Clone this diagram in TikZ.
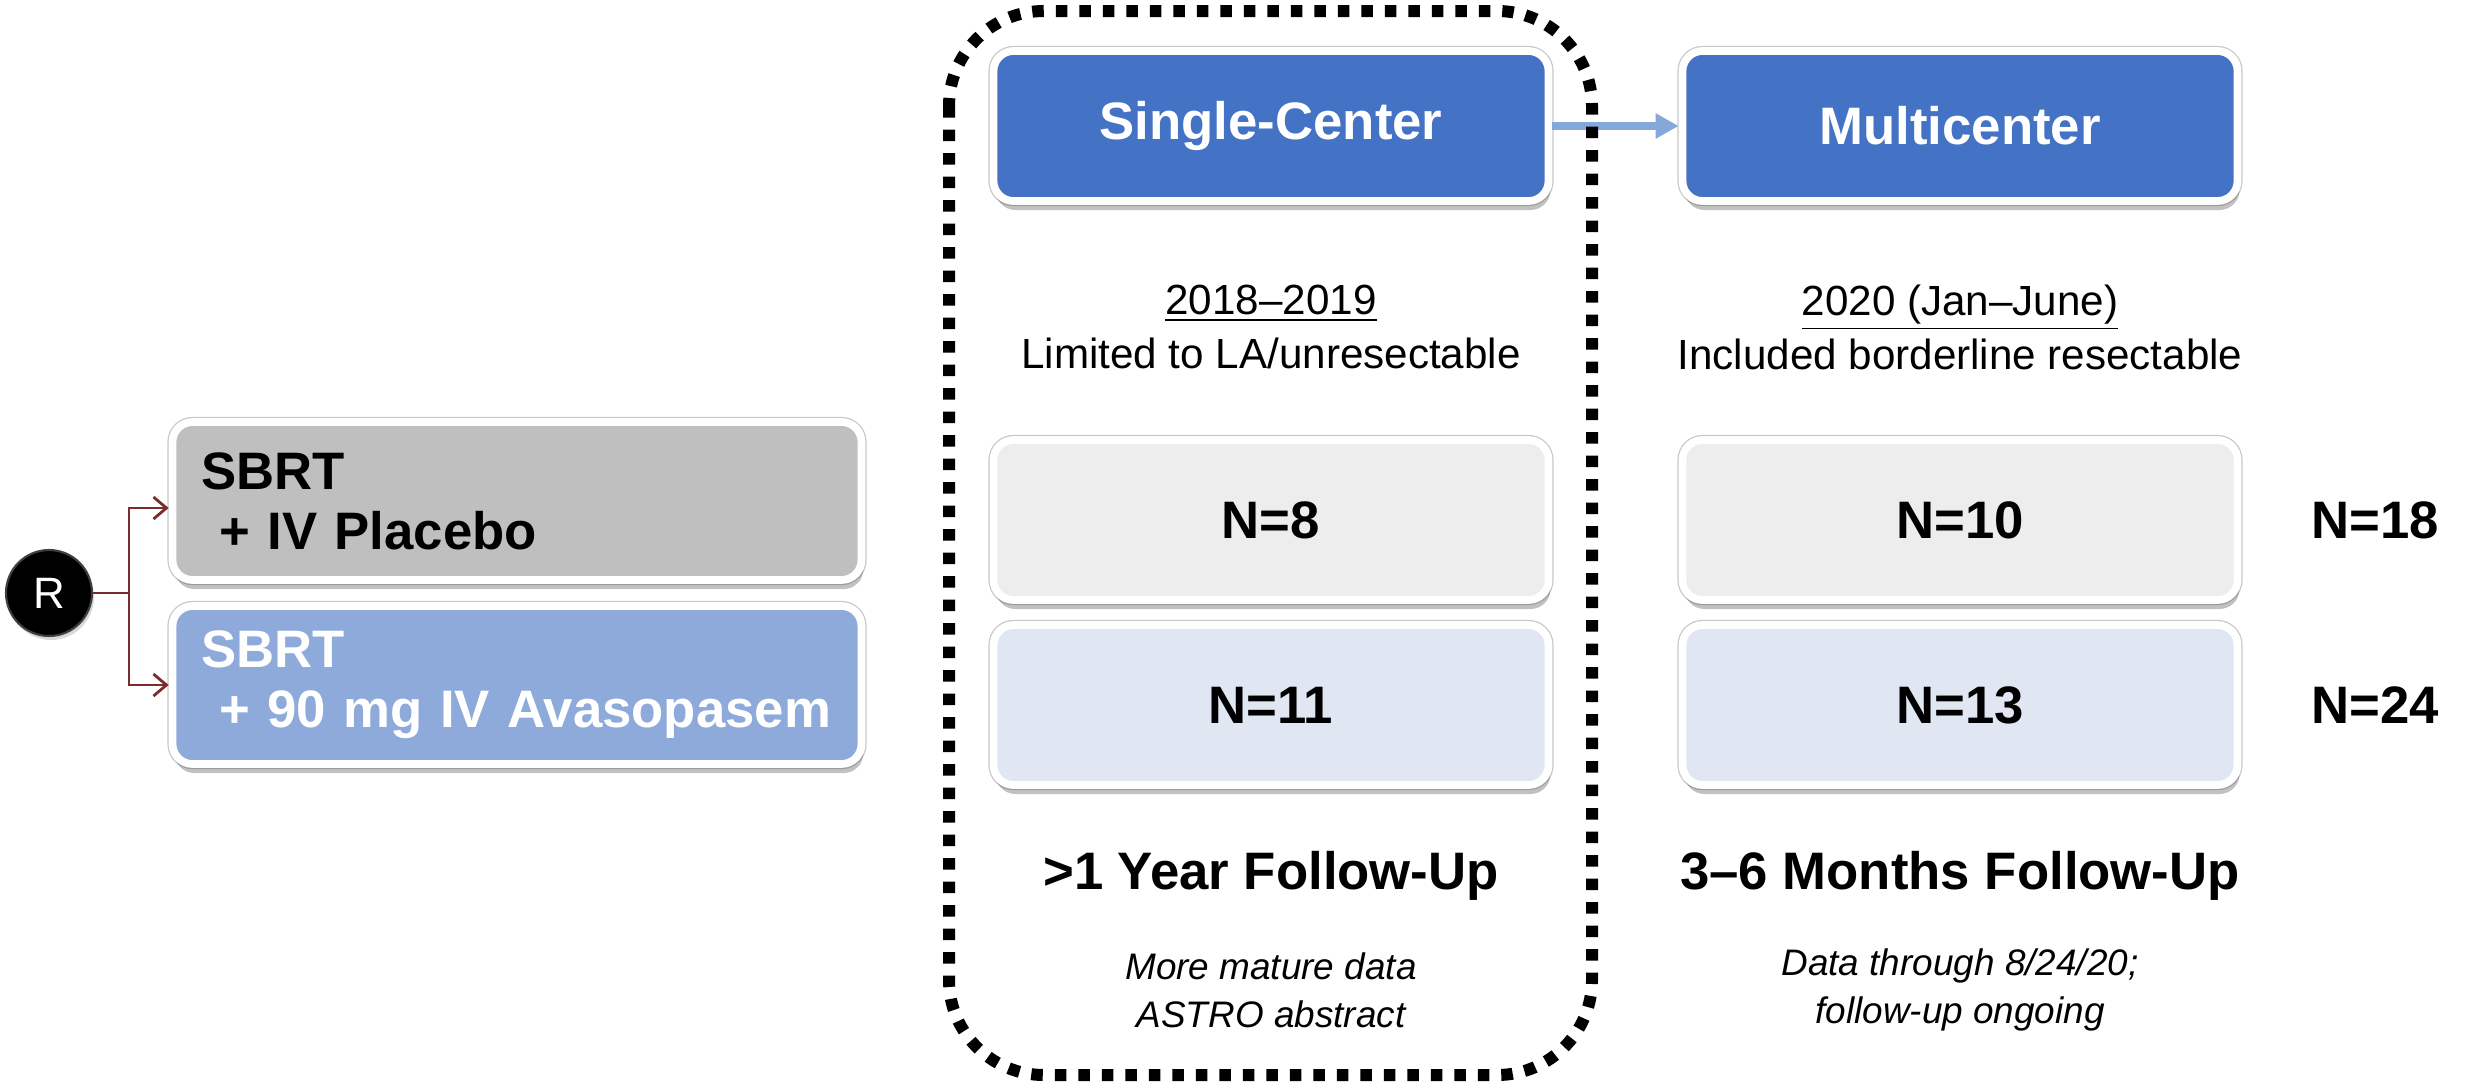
\documentclass[tikz,border=0pt]{standalone}
\usepackage{fontspec}
\setmainfont{Liberation Sans}
\usepackage{xcolor}
\usetikzlibrary{positioning, arrows.meta, shadows, calc}

\definecolor{siteblue}{HTML}{4472C4}
\definecolor{placebogray}{HTML}{BFBFBF}
\definecolor{drugblue}{HTML}{8EAADB}
\definecolor{countgray}{HTML}{EDEDED}
\definecolor{countblue}{HTML}{E1E7F2}
\definecolor{linkblue}{HTML}{84A9D8}
\definecolor{randred}{HTML}{7B2C2C}

\begin{document}
\begin{tikzpicture}
    [x=0.1mm, y=-0.1mm,
     box/.style={rectangle, rounded corners=2mm, draw=white, line width=2.2pt,
                 preaction={draw=black!22, line width=2.9pt},
                 drop shadow={shadow xshift=0.2mm, shadow yshift=-0.9mm, opacity=0.35, fill=black!70}},
     site/.style={box, fill=siteblue, text=white, minimum width=55.5mm, minimum height=15mm,
                  font=\fontsize{15}{17}\selectfont\bfseries},
     arm/.style={box, minimum width=68.9mm, minimum height=15.8mm, text width=63.1mm,
                 inner xsep=2.9mm, align=left, font=\fontsize{15}{17}\selectfont\bfseries},
     count/.style={box, minimum width=55.5mm, minimum height=16mm,
                   font=\fontsize{15}{17}\selectfont\bfseries},
     total/.style={font=\fontsize{15}{17}\selectfont\bfseries},
     period/.style={align=center, font=\fontsize{12}{15.4}\selectfont},
     followup/.style={font=\fontsize{15}{17}\selectfont\bfseries},
     note/.style={align=center, font=\fontsize{10.5}{13.7}\selectfont\itshape}]
    \useasboundingbox (0,0) rectangle (2466,1081);

    \node (single) at (1271,126) [site] {Single-Center};
    \node (multi) at (1960,126) [site] {Multicenter};

    \node (period1) at (1271,327) [period] {\underline{2018–2019}\\Limited to LA/unresectable};
    \node (period2) at (1960,327) [period] {\underline{2020 (Jan–June)}\\Included borderline resectable};

    \node (rand) at (49,593) [circle, fill=black, draw=black!75, line width=0.6pt,
        minimum size=8.6mm, inner sep=0pt, text=white,
        drop shadow={shadow xshift=0.2mm, shadow yshift=-0.4mm, opacity=0.3},
        font=\fontsize{12.5}{15}\selectfont] {R};
    \node (placebo) at (517,501) [arm, fill=placebogray] {SBRT\\~+ IV Placebo};
    \node (drug) at (517,685) [arm, fill=drugblue, text=white] {SBRT\\~+ 90 mg IV Avasopasem};
    \coordinate (split) at (129,593);

    \node (n8) at (1271,520) [count, fill=countgray] {N=8};
    \node (n11) at (1271,705) [count, fill=countblue] {N=11};
    \node (n10) at (1960,520) [count, fill=countgray] {N=10};
    \node (n13) at (1960,705) [count, fill=countblue] {N=13};
    \node (n18) at (2375,520) [total] {N=18};
    \node (n24) at (2375,705) [total] {N=24};

    \node (fu1) at (1271,876) [followup] {>1 Year Follow-Up};
    \node (fu2) at (1960,876) [followup] {3–6 Months Follow-Up};
    \node (note1) at (1271,990) [note] {More mature data\\ASTRO abstract};
    \node (note2) at (1960,990) [note] {Data through 8/24/20;\\follow-up ongoing};

    \draw[randred, line width=0.8pt, -{Straight Barb[length=1.3mm, width=2.2mm]}]
        (rand) -- (split) |- ([yshift=-0.7mm]placebo.west);
    \draw[randred, line width=0.8pt, -{Straight Barb[length=1.3mm, width=2.2mm]}]
        (split) |- (drug.west);
    \draw[linkblue, line width=0.8mm, -{Triangle[length=2.3mm, width=2.4mm]}] (single) -- (multi);

    \draw[line width=1.2mm, dash pattern=on 1.15mm off 1.2mm, rounded corners=9.5mm]
        (949,11) rectangle (1592,1075);
\end{tikzpicture}
\end{document}
